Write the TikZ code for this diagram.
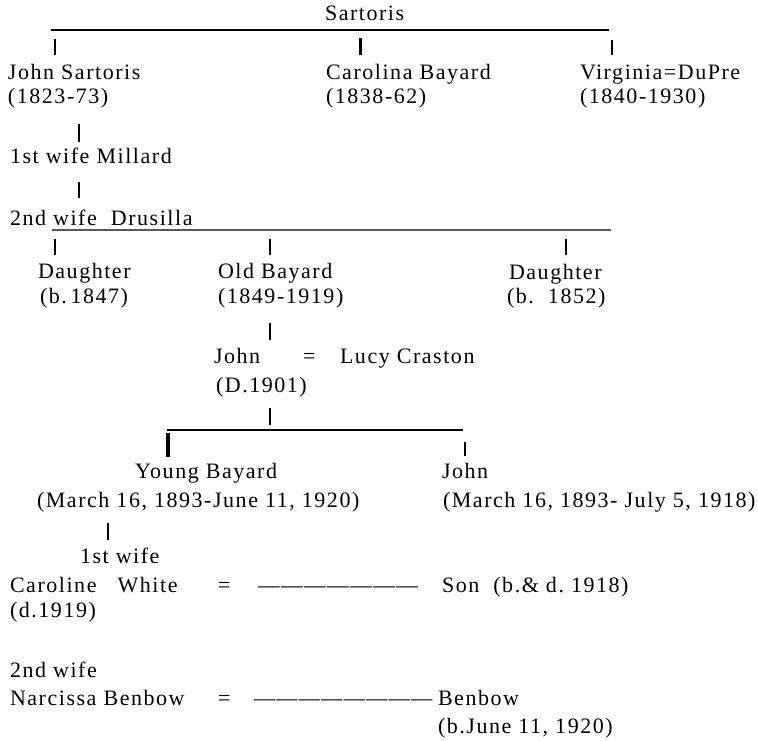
\documentclass[tikz,border=0pt]{standalone}
\usepackage{graphicx}
\usepackage{fontspec}
\setmainfont{Liberation Serif}[LetterSpace=7]
\newcommand\txtfont{\fontsize{22pt}{25pt}\selectfont}
\begin{document}
\begin{tikzpicture}[x=1pt,y=-1pt,
  lbl/.style={anchor=base west, inner sep=0pt, outer sep=0pt, font=\txtfont, text=black},
  tk/.style={line width=2.2pt, black},
  tkthick/.style={line width=3pt, black},
  hline/.style={line width=1.3pt, black},
  hgray/.style={line width=1.1pt, black!65}]
\useasboundingbox (0,0) rectangle (758,740);
% ---- generation 1
\node[lbl] (sart) at (325,20) {Sartoris};
\coordinate (h1a) at (51,30); \coordinate (h1b) at (609,30);
\draw[hline] (h1a) -- (h1b);
\coordinate (t1a) at (55,39);  \coordinate (t1b) at (55,55);  \draw[tk] (t1a) -- (t1b);
\coordinate (t2a) at (360,38); \coordinate (t2b) at (360,55); \draw[tkthick] (t2a) -- (t2b);
\coordinate (t3a) at (612,40); \coordinate (t3b) at (612,55); \draw[tk] (t3a) -- (t3b);
\node[lbl] (john1) at (8,79) {John Sartoris};
\node[lbl] (john1d) at (8,103) {(1823-73)};
\node[lbl] (carol) at (326,79) {Carolina Bayard};
\node[lbl] (carold) at (326,103) {(1838-62)};
\node[lbl] (virg) at (580,79) {Virginia=DuPre};
\node[lbl] (virgd) at (580,103) {(1840-1930)};
% ---- wives
\coordinate (t4a) at (79,124); \coordinate (t4b) at (79,142); \draw[tk] (t4a) -- (t4b);
\node[lbl] (wife1) at (10,163) {1st wife Millard};
\coordinate (t5a) at (79,182); \coordinate (t5b) at (79,198); \draw[tk] (t5a) -- (t5b);
\node[lbl] (wife2) at (10,225) {2nd wife\ \ Drusilla};
\coordinate (h2a) at (52,230); \coordinate (h2b) at (611,230);
\draw[hgray] (h2a) -- (h2b);
% ---- generation 2
\coordinate (t6a) at (55,239);  \coordinate (t6b) at (55,255);  \draw[tk] (t6a) -- (t6b);
\coordinate (t7a) at (270,239); \coordinate (t7b) at (270,255); \draw[tk] (t7a) -- (t7b);
\coordinate (t8a) at (566,239); \coordinate (t8b) at (566,255); \draw[tk] (t8a) -- (t8b);
\node[lbl] (dau1) at (38,278) {Daughter};
\node[lbl] (dau1d) at (40,303) {(b.\,1847)};
\node[lbl] (oldb) at (218,278) {Old Bayard};
\node[lbl] (oldbd) at (218,303) {(1849-1919)};
\node[lbl] (dau2) at (509,279) {Daughter};
\node[lbl] (dau2d) at (507,303) {(b.\ \ 1852)};
% ---- generation 3
\coordinate (t9a) at (270,323); \coordinate (t9b) at (270,340); \draw[tk] (t9a) -- (t9b);
\node[lbl] (john2) at (214,363) {John};
\node[lbl] (eq1) at (303,363) {=};
\node[lbl] (lucy) at (340,363) {Lucy Craston};
\node[lbl] (john2d) at (216,392) {(D.1901)};
\coordinate (t10a) at (270,408); \coordinate (t10b) at (270,425); \draw[tk] (t10a) -- (t10b);
\coordinate (h3a) at (167,430); \coordinate (h3b) at (463,430);
\draw[hline,line width=1.1pt] (h3a) -- (h3b);
\coordinate (t11a) at (168,433); \coordinate (t11b) at (168,457); \draw[line width=3.5pt] (t11a) -- (t11b);
\coordinate (t12a) at (465,442); \coordinate (t12b) at (465,456); \draw[tk,line width=2.5pt] (t12a) -- (t12b);
% ---- generation 4
\node[lbl] (youngb) at (135,478) {Young Bayard};
\node[lbl] (youngbd) at (37,507) {(March 16, 1893-June 11, 1920)};
\node[lbl] (john3) at (442,478) {John};
\node[lbl] (john3d) at (443,507) {(March 16, 1893- July 5, 1918)};
\coordinate (t13a) at (108,523); \coordinate (t13b) at (108,540); \draw[tk] (t13a) -- (t13b);
\node[lbl] (w1) at (80,563) {1st wife};
\node[lbl] (carw) at (10,592) {Caroline\ \ \ White};
\node[lbl] (eq2) at (218,592) {=};
\node[lbl] (dash1) at (258,592) {\scalebox{0.98}[1]{———————}};
\node[lbl] (son) at (442,592) {Son\ \ (b.\& d.\ 1918)};
\node[lbl] (carwd) at (10,617) {(d.1919)};
\node[lbl] (w2) at (10,677) {2nd wife};
\node[lbl] (narc) at (10,705) {Narcissa Benbow};
\node[lbl] (eq3) at (218,705) {=};
\node[lbl] (dash2) at (254,705) {\scalebox{0.955}[1]{————————}};
\node[lbl] (benb) at (438,705) {Benbow};
\node[lbl] (benbd) at (438,733) {(b.June 11, 1920)};
\end{tikzpicture}
\end{document}
